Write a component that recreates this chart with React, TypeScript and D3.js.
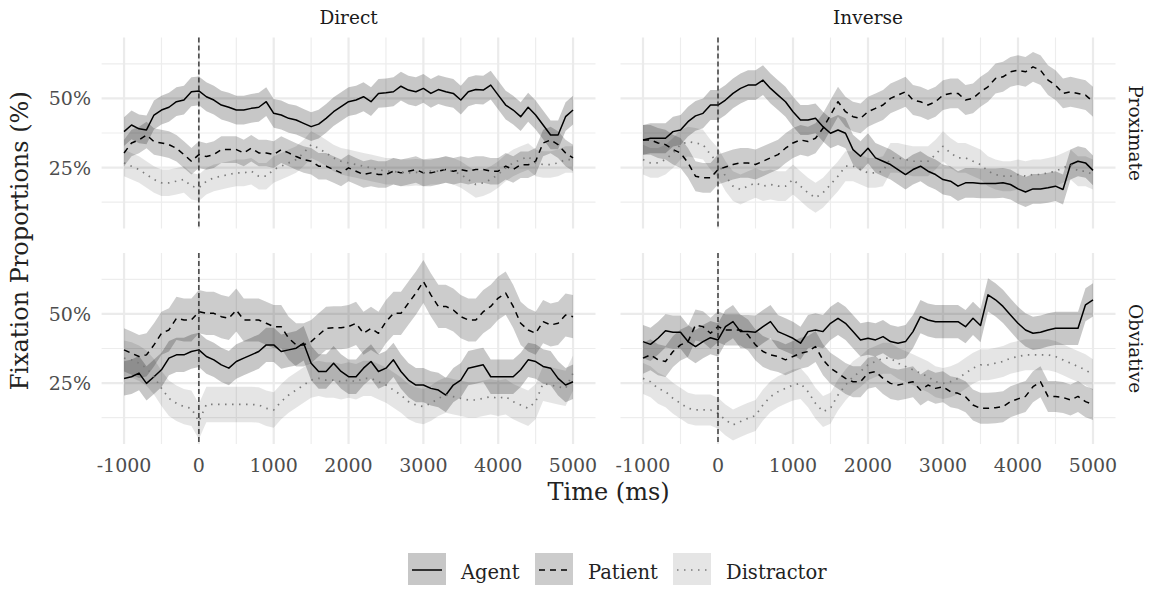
import React from "react";
import * as d3 from "d3";

// ---------- data ----------
const timePoints: number[] = d3.range(-1000, 5001, 100);
const columns = ["Direct", "Inverse"];
const rows = ["Proximate", "Obviative"];
const seriesNames = ["Agent", "Patient", "Distractor"];
const xTicks = [-1000, 0, 1000, 2000, 3000, 4000, 5000];
const xMinorTicks = [-500, 500, 1500, 2500, 3500, 4500];
const yTicks = [25, 50];
const yTickLabels = ["25%", "50%"];
const yMinorTicks = [12.5, 37.5, 62.5];

// Direct / Proximate
const dpAgent = [38.0,40.4,39,38.6,44,45.8,46.8,48.8,49.4,52.4, 52.7,50.6,49.4,47.6,46.8,45.8,45.8,46.4,46.8,48.8, 44.6,44,42.8,42.2,41.0,39.8,40.7,42.8,45.2,47, 48.8,49.4,50.6,48.8,51.8,52,52.4,54.4,53,52.4, 53.6,51.8,53.2,52.4,51.8,49.4,52.4,53.2,53,54.8, 51.2,47.6,45.8,43.4,46.8,44,40.4,36.8,36.8,43.4, 45.8];
const dpPatient = [30.3,33.9,35,36.8,34.4,33.9,33.3,32,29.7,27.3, 29.7,29,29.7,31.5,31.5,31.5,30.3,32,30.3,30.3, 29.7,31.5,30.3,29,27.9,27.3,25.5,25.5,24.3,23.1, 24.9,23.7,22.5,23.1,22.5,22.5,23.7,23.1,23.7,24.3, 23.1,23.1,23.7,24.3,23.7,24.3,23.7,24.3,24.3,23.7, 23.7,25.5,24.3,26,26,27.3,33.9,35,33.3,30.3, 28.5];
const dpDistractor = [26.7,25.5,24.3,22.5,20.7,19.5,19.5,20.1,20.7,18.3, 17.7,20.1,21.3,21.9,22.5,23.1,23.1,23.7,21.9,21.9, 24.3,25.5,26.7,27.9,30.3,33.3,32,30.3,28.5,27.3, 26.7,26.1,25.5,24.9,24.3,23.7,23.7,23.1,23.1,23.3, 23.1,23.7,23.7,24.3,23.7,22.5,20.7,18.9,19.5,20.7, 22.5,24.9,26.7,27.9,29,26.7,26.1,26.1,26.7,27.9, 27.9];

// Inverse / Proximate
const ipAgent = [35,35.6,35.6,35.6,38,38.6,41.6,43.7,44.6,47.6, 47.6,49.4,51.8,53.6,54.8,54.8,56.6,53.6,51.2,48.8, 45.2,42.2,42.2,42.8,39.8,37.4,38.6,37.4,31.5,29.1, 32,28.5,27.3,26.1,24.3,22.5,24.3,25.5,23.7,22.5, 20.7,20.1,18.3,19.5,19.5,19.3,19.3,19.3,19.5,18.9, 17.3,16.2,17.3,17.3,17.7,18.3,17.1,26.1,27.3,26.7, 24];
const ipPatient = [35,35,33.9,33.3,31.5,30.3,26.7,21.9,21.3,21.3, 24.3,25.2,26.1,26.7,26.7,26.1,27.3,28.5,29.7,32, 33.9,35,34.4,35.6,39.2,44,48.8,45.2,43.4,42.8, 45.2,46.4,47.6,50,51.2,52.4,49.4,48.8,47.6,48.8, 51.2,51.8,51.8,49.4,50,52.4,54.2,57.2,57.8,59.6, 60.2,59.6,61.4,60.2,56.6,54.8,51.8,52.4,51.8,51.2, 48.8];
const ipDistractor = [27.9,26.7,26.7,27.9,30.3,33.3,34.4,33.9,33.3,29.7, 26.7,21.9,18.3,17.1,18.3,19.5,18.3,18.9,18.3,18.3, 20.7,18.3,15.9,14.1,15.9,18.9,21.9,25.5,25.5,24.3, 23.1,23.1,23.7,28.5,28.5,27.9,27.3,27.3,27.3,29.7, 32.7,30.3,28.5,28.5,27.3,26.1,23.7,22.5,21.9,21.9, 22.5,21.9,22.5,22.5,23.1,23.7,24.9,26.1,23.7,23.7, 22.5];

// Direct / Obviative
const doAgent = [26.7,27.3,28.6,24.9,27.3,29.8,34,35.2,35.2,36.4, 37,34.6,33.4,31.6,30.4,32.8,34,35.2,36.4,38.8, 38.8,36.4,37,37.6,39.4,32.2,29.2,29.2,32.2,29.2, 27.3,27.3,30.4,32.8,29.2,30.4,33.4,29.2,26.1,24.3, 24.3,23.1,22.5,20.7,24.3,26.1,30.4,31,31.6,27.3, 27.3,27.3,27.3,29.8,33.4,32.8,31,30.4,26.7,24.3, 25.5];
const doPatient = [37,35.8,34.6,35.2,38.8,43,44.2,48.4,47.8,47.8, 50.8,50.2,50.2,49,48.4,51.4,47.8,47.8,47.8,46.6, 45.4,45.4,41.2,38.8,38.8,40,42.4,44.8,45,45, 45.4,46.6,43,44.8,43,47.2,50.2,50.2,53.9,57.5, 61.7,56.9,52.7,52.7,51.4,49,47.8,47.8,50.8,52.7, 55.7,57.5,52.7,46.6,44.2,43,47.2,46,46.6,49.6, 49];
const doDistractor = [34,33.4,32.2,30.4,27.3,23.1,19.5,17.7,16.5,15.9, 11.1,17.3,17.3,17.3,17.3,17.3,17.3,17.3,17.1,15.9, 15.3,18.3,20.7,22.5,24.3,26.1,26.7,26.1,26.1,25.5, 26.1,25.5,26.7,26.7,25.5,24.3,22.5,20.7,18.3,17.1, 16.5,17.7,19.5,20.7,20.1,19.5,18.9,18.9,19.5,20.1, 19.5,20.1,18.3,17.1,15.9,18.3,24.9,24.3,23.7,23.1, 28.6];

// Inverse / Obviative
const ioAgent = [40,39,41.2,43.9,43.4,43.4,40,38.2,40,41.4, 40.6,45.4,47.2,43.6,43.6,43.4,45.4,47.2,43.6,42.4, 41.2,39.4,43.6,44.2,43.6,46.6,48.4,46.6,43.6,40.6, 41.2,40.6,41.8,40,39.4,40,43.6,49,47.8,47.2, 47.2,47.2,47.2,45.4,48.4,45.8,56.9,55.1,52.7,49.6, 46.6,44.2,43,43.4,44.2,44.8,44.8,44.8,44.8,53.3, 55.1];
const ioPatient = [34,35.2,33.4,32.8,36.4,38.8,40,46,45.4,43, 45.4,44.2,44.2,44.2,42.4,38.8,36.4,35.2,34.6,33.4, 34.6,35.8,36.4,38.2,33.4,30.4,28.6,26.7,25.5,25.5, 28.6,29.2,26.7,24.9,24.3,24.9,25.5,22.5,24.3,23.1, 23.7,21.9,21.3,20.1,17.1,15.9,15.9,16.1,16.5,18.3, 19.3,20.2,23.7,25.5,20.2,20.2,19.8,18.9,20.2,18.3, 17.3];
const ioDistractor = [26.7,25.5,23.1,21.9,19.5,17.7,15.9,15.3,15.3,15.3, 14.1,11.7,9.9,11.1,12.3,13.3,17.1,20.1,21.9,23.1, 24.3,24.9,21.9,17.7,14.7,15.9,20.7,24.3,27.3,29.2, 31.6,32.8,34,34,32.2,31,29.8,28.6,27.3,25.5, 24.9,25.5,26.7,28.6,30.4,31.6,31.6,32.2,32.8,34, 34.6,35.2,35.2,35.2,35.2,34.6,33.4,32.2,31,29.8, 28];

// confidence band half-widths (percentage points) for Agent, Patient, Distractor
const ciDirectProximate = [5.2, 4.8, 4.8];
const ciInverseProximate = [5.4, 5.4, 5.4];
const ciDirectObviative = [6.2, 7.8, 6.4];
const ciInverseObviative = [6.0, 5.6, 5.6];

// ---------- layout & style ----------
const W = 1151;
const H = 592;
const FONT = "'DejaVu Serif', serif";
const colRanges: [number, number][] = [[101.6, 595.5], [620.5, 1115.5]];
const rowRanges: [number, number][] = [[37.5, 228.5], [253, 444]];
const xDomain: [number, number] = [-1300, 5300];
const yDomain: [number, number] = [3, 72];

const seriesStyle = [
  { stroke: "#000", width: 1.5, dash: "none", fillOpacity: 0.22 },
  { stroke: "#000", width: 1.5, dash: "6,5", fillOpacity: 0.2 },
  { stroke: "#7a7a7a", width: 1.7, dash: "1.5,5.5", fillOpacity: 0.1 },
];

const panels = [
  { row: 0, col: 0, series: [dpAgent, dpPatient, dpDistractor], ci: ciDirectProximate },
  { row: 0, col: 1, series: [ipAgent, ipPatient, ipDistractor], ci: ciInverseProximate },
  { row: 1, col: 0, series: [doAgent, doPatient, doDistractor], ci: ciDirectObviative },
  { row: 1, col: 1, series: [ioAgent, ioPatient, ioDistractor], ci: ciInverseObviative },
];

function Panel({ p }: { p: (typeof panels)[number] }) {
  const [x0, x1] = colRanges[p.col];
  const [y0, y1] = rowRanges[p.row];
  const x = d3.scaleLinear().domain(xDomain).range([x0, x1]);
  const y = d3.scaleLinear().domain(yDomain).range([y1, y0]);
  const id = `clip-${p.row}-${p.col}`;
  return (
    <g>
      <defs>
        <clipPath id={id}>
          <rect x={x0} y={y0} width={x1 - x0} height={y1 - y0} />
        </clipPath>
      </defs>
      {yMinorTicks.map((t) => (
        <line key={"ym" + t} x1={x0} x2={x1} y1={y(t)} y2={y(t)} stroke="#ededed" strokeWidth={1.2} />
      ))}
      {xMinorTicks.map((t) => (
        <line key={"xm" + t} x1={x(t)} x2={x(t)} y1={y0} y2={y1} stroke="#ededed" strokeWidth={1.2} />
      ))}
      {yTicks.map((t) => (
        <line key={"y" + t} x1={x0} x2={x1} y1={y(t)} y2={y(t)} stroke="#ebebeb" strokeWidth={2.2} />
      ))}
      {xTicks.map((t) => (
        <line key={"x" + t} x1={x(t)} x2={x(t)} y1={y0} y2={y1} stroke="#ebebeb" strokeWidth={2.2} />
      ))}
      <g clipPath={`url(#${id})`}>
        {p.series.map((vals, si) => {
          const n = Math.min(vals.length, timePoints.length);
          const pts = d3.range(n).map((i) => ({ t: timePoints[i], v: vals[i] }));
          const area = d3
            .area<{ t: number; v: number }>()
            .x((d) => x(d.t))
            .y0((d) => y(d.v - p.ci[si]))
            .y1((d) => y(d.v + p.ci[si]));
          return (
            <path key={"r" + si} d={area(pts) || ""} fill="#000" fillOpacity={seriesStyle[si].fillOpacity} stroke="none" />
          );
        })}
        {p.series.map((vals, si) => {
          const n = Math.min(vals.length, timePoints.length);
          const pts = d3.range(n).map((i) => ({ t: timePoints[i], v: vals[i] }));
          const line = d3
            .line<{ t: number; v: number }>()
            .x((d) => x(d.t))
            .y((d) => y(d.v));
          const s = seriesStyle[si];
          return (
            <path
              key={"l" + si}
              d={line(pts) || ""}
              fill="none"
              stroke={s.stroke}
              strokeWidth={s.width}
              strokeDasharray={s.dash}
              strokeLinejoin="round"
            />
          );
        })}
      </g>
      <line x1={x(0)} x2={x(0)} y1={y0} y2={y1} stroke="#222" strokeWidth={1.3} strokeDasharray="5,3" />
    </g>
  );
}

export default function App() {
  const xs = colRanges.map((r) => d3.scaleLinear().domain(xDomain).range(r));
  const ys = rowRanges.map((r) => d3.scaleLinear().domain(yDomain).range([r[1], r[0]]));
  const legendKeys = [408, 535, 673];
  return (
    <svg
      width={W}
      height={H}
      style={{ position: "absolute", left: 0, top: 0, background: "#fff" }}
      fontFamily={FONT}
    >
      <rect x={0} y={0} width={W} height={H} fill="#fff" />
      {panels.map((p, i) => (
        <Panel key={i} p={p} />
      ))}
      {/* column strips */}
      {columns.map((c, ci) => (
        <text key={c} x={(colRanges[ci][0] + colRanges[ci][1]) / 2} y={24} textAnchor="middle" fontSize={18.5} fill="#1a1a1a">
          {c}
        </text>
      ))}
      {/* row strips */}
      {rows.map((r, ri) => {
        const cy = (rowRanges[ri][0] + rowRanges[ri][1]) / 2;
        return (
          <text
            key={r}
            transform={`translate(1135,${cy}) rotate(90)`}
            textAnchor="middle"
            dominantBaseline="central"
            fontSize={18.5}
            fill="#1a1a1a"
          >
            {r}
          </text>
        );
      })}
      {/* y tick labels */}
      {ys.map((y, ri) =>
        yTicks.map((t, ti) => (
          <text key={ri + "-" + t} x={91} y={y(t)} textAnchor="end" dominantBaseline="central" fontSize={19} fill="#4d4d4d">
            {yTickLabels[ti]}
          </text>
        ))
      )}
      {/* x tick labels */}
      {xs.map((x, ci) =>
        xTicks.map((t) => (
          <text key={ci + "-" + t} x={x(t)} y={472} textAnchor="middle" fontSize={19} fill="#4d4d4d">
            {t}
          </text>
        ))
      )}
      {/* axis titles */}
      <text x={(colRanges[0][0] + colRanges[1][1]) / 2} y={500} textAnchor="middle" fontSize={24} fill="#222">
        Time (ms)
      </text>
      <text
        transform={`translate(20,${(rowRanges[0][0] + rowRanges[1][1]) / 2}) rotate(-90)`}
        textAnchor="middle"
        dominantBaseline="central"
        fontSize={24}
        fill="#222"
      >
        Fixation Proportions (%)
      </text>
      {/* legend */}
      {seriesNames.map((name, si) => {
        const kx = legendKeys[si];
        const s = seriesStyle[si];
        return (
          <g key={name}>
            <rect x={kx} y={553} width={38} height={32} fill="#000" fillOpacity={s.fillOpacity} />
            <line
              x1={kx + 4}
              x2={kx + 34}
              y1={570}
              y2={570}
              stroke={s.stroke}
              strokeWidth={s.width}
              strokeDasharray={s.dash}
            />
            <text x={kx + 53} y={579} fontSize={19.5} fill="#222">
              {name}
            </text>
          </g>
        );
      })}
    </svg>
  );
}
